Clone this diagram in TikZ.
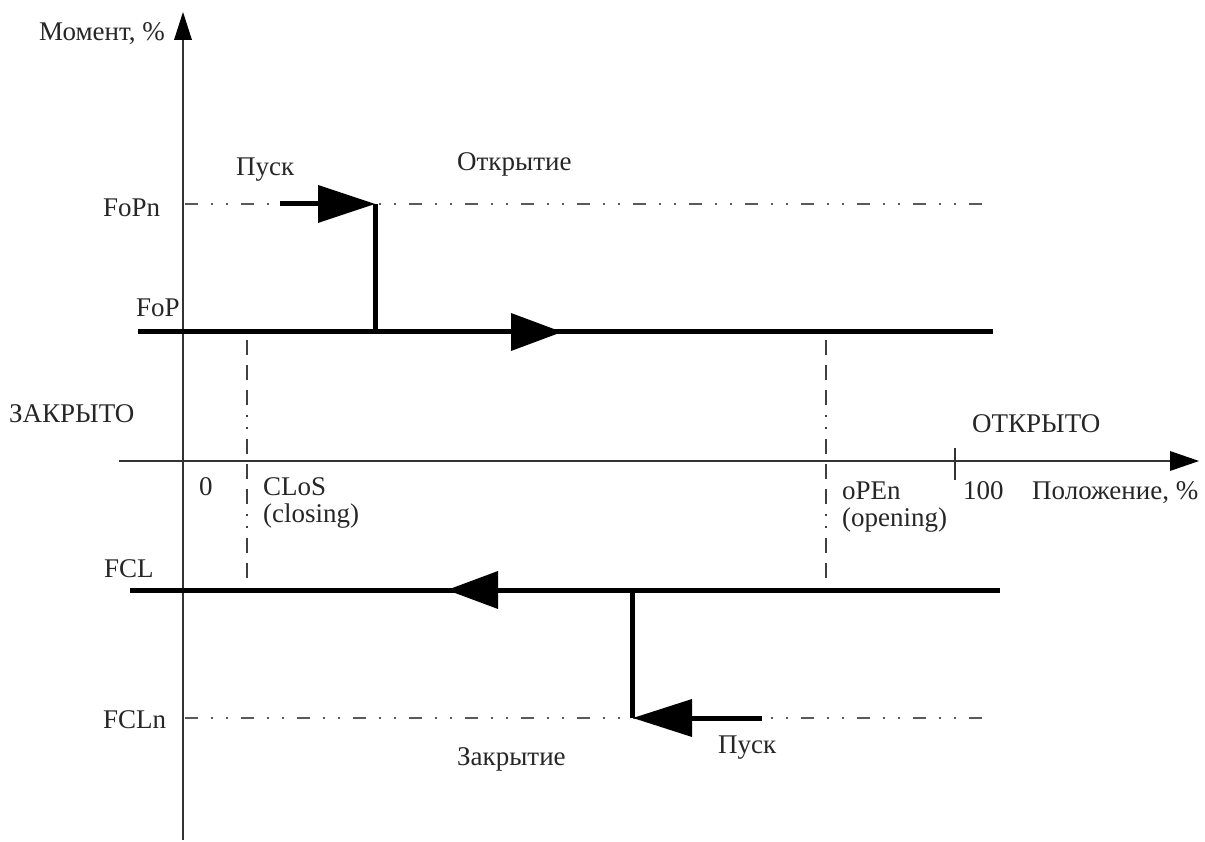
\documentclass[tikz,border=0pt]{standalone}
\usepackage{fontspec}
\setmainfont{Liberation Serif}
\tikzset{
  lbl/.style={anchor=base west, inner sep=0pt, font=\fontsize{27}{31}\selectfont, text=black!85},
  axisline/.style={line width=1.6pt, draw=black!80},
  thickline/.style={line width=5pt, draw=black},
  ddline/.style={line width=1.6pt, draw=black!65, dash pattern=on 13pt off 13pt on 2pt off 13pt on 2pt off 13pt},
  vdline/.style={line width=1.6pt, draw=black!75, dash pattern=on 15pt off 10pt on 15pt off 10pt on 15pt off 10pt on 2pt off 10pt on 2pt off 10pt},
  tri/.style={fill=black}
}
\begin{document}
\begin{tikzpicture}[x=1pt,y=-1pt]
\useasboundingbox (0,0) rectangle (1205,842);
% coordinates
\coordinate (yb) at (183,840);
\coordinate (yt) at (183,39);
\coordinate (xl) at (119,461);
\coordinate (xr) at (1171,461);
\coordinate (t1) at (955,448);
\coordinate (t2) at (955,480);
\coordinate (fopnL) at (185,204);
\coordinate (fopnR) at (985,204);
\coordinate (fcLnL) at (185,718);
\coordinate (fcLnR) at (985,718);
\coordinate (fopL) at (138,332);
\coordinate (fopR) at (993,332);
\coordinate (fclL) at (130,590);
\coordinate (fclR) at (1000,590);
\coordinate (v1t) at (375,204);
\coordinate (v1b) at (375,332);
\coordinate (v2t) at (632,590);
\coordinate (v2b) at (632,718);
\coordinate (p1s) at (280,204);
\coordinate (p1e) at (320,204);
\coordinate (p2s) at (762,718);
\coordinate (p2e) at (690,718);
\coordinate (c1t) at (247,340);
\coordinate (c1b) at (247,588);
\coordinate (c2t) at (826,340);
\coordinate (c2b) at (826,588);
% dash-dot reference lines
\draw[ddline] (fopnL) -- (fopnR);
\draw[ddline] (fcLnL) -- (fcLnR);
\draw[vdline] (c1t) -- (c1b);
\draw[vdline] (c2t) -- (c2b);
% axes
\draw[axisline] (yb) -- (yt);
\fill[black] (183,12) -- (174,40) -- (192,40) -- cycle;
\draw[axisline] (xl) -- (xr);
\fill[black] (1199,461) -- (1170,451) -- (1170,471) -- cycle;
\draw[axisline] (t1) -- (t2);
% opening path
\draw[thickline] (fopL) -- (fopR);
\draw[thickline] (v1b) -- (v1t);
\draw[thickline] (p1s) -- (p1e);
\fill[tri] (375,204) -- (318,185) -- (318,223) -- cycle;
\fill[tri] (562,332) -- (511,313) -- (511,351) -- cycle;
% closing path
\draw[thickline] (fclL) -- (fclR);
\draw[thickline] (v2t) -- (v2b);
\draw[thickline] (p2s) -- (p2e);
\fill[tri] (633,718) -- (692,699) -- (692,737) -- cycle;
\fill[tri] (447,590) -- (498,571) -- (498,609) -- cycle;
% labels
\node[lbl] (moment) at (39,41) {Момент, \%};
\node[lbl] (pusk1) at (236,176) {Пуск};
\node[lbl] (otkr) at (457,171) {Открытие};
\node[lbl] (fopn) at (103,217) {FoPn};
\node[lbl] (fop) at (136,317) {FoP};
\node[lbl] (zakr) at (9,422) {ЗАКРЫТО};
\node[lbl] (otkrto) at (972,432) {ОТКРЫТО};
\node[lbl] (zero) at (199,495) {0};
\node[lbl] (clos) at (263,495) {CLoS};
\node[lbl] (closing) at (263,522) {(closing)};
\node[lbl] (open) at (842,499) {oPEn};
\node[lbl] (opening) at (842,526) {(opening)};
\node[lbl] (hundred) at (963,499) {100};
\node[lbl] (polozh) at (1032,499) {Положение, \%};
\node[lbl] (fcl) at (104,577) {FCL};
\node[lbl] (fcln) at (103,728) {FCLn};
\node[lbl] (pusk2) at (718,753) {Пуск};
\node[lbl] (zakrytie) at (457,765) {Закрытие};
\end{tikzpicture}
\end{document}
